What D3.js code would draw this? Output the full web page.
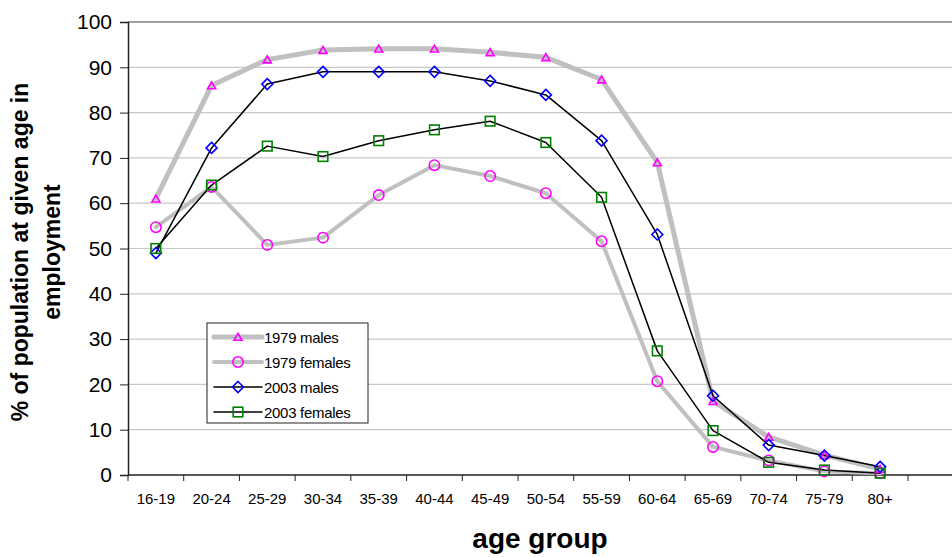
<!DOCTYPE html>
<html><head><meta charset="utf-8">
<script src="https://cdn.jsdelivr.net/npm/d3@7"></script>
<style>body{margin:0;background:#fff}svg{display:block;font-family:Arial,"Liberation Sans",sans-serif}</style>
</head><body><svg id="c" width="952" height="557"></svg>
<script>
const categories = ["16-19","20-24","25-29","30-34","35-39","40-44","45-49","50-54","55-59","60-64","65-69","70-74","75-79","80+"];
const males1979   = [61,86,91.7,93.8,94.1,94.1,93.3,92.2,87.3,69,16.3,8.4,4.4,1.3];
const females1979 = [54.7,63.6,50.8,52.4,61.8,68.4,66,62.2,51.6,20.7,6.2,3.2,0.8,0.4];
const males2003   = [49,72.2,86.3,89,89,89,87,83.9,73.8,53.1,17.5,6.6,4.3,1.8];
const females2003 = [50,64,72.6,70.3,73.8,76.2,78.1,73.4,61.3,27.4,9.8,2.8,1.1,0.4];
const yTicks = [0,10,20,30,40,50,60,70,80,90,100];
const seriesNames = ["1979 males","1979 females","2003 males","2003 females"];

const svg = d3.select("#c");
const L = 128, R = 908, T = 22, B = 475, W = 952;
const x = d3.scaleBand().domain(categories).range([L, R]);
const y = d3.scaleLinear().domain([0,100]).range([B, T]);
const FONT = "Arial,'Liberation Sans',sans-serif";

// gridlines
svg.append("g").selectAll("line").data(yTicks.filter(d=>d>0)).join("line")
  .attr("x1", L).attr("x2", W).attr("y1", d=>y(d)).attr("y2", d=>y(d))
  .attr("stroke", d=>d===100?"#808080":"#c8c8c8").attr("stroke-width", d=>d===100?1.5:1.2);

// y axis
const ya = svg.append("g").attr("transform", `translate(${L},0)`)
  .call(d3.axisLeft(y).tickValues(yTicks).tickSize(8).tickPadding(8));
ya.select(".domain").attr("stroke","#222").attr("stroke-width",1.5);
ya.selectAll(".tick line").attr("stroke","#222");
ya.selectAll("text").attr("font-size",21).attr("fill","#000").attr("font-family",FONT);

// x axis
const xa = svg.append("g").attr("transform", `translate(0,${B})`)
  .call(d3.axisBottom(x).tickSize(0).tickPadding(18));
xa.select(".domain").remove();
xa.selectAll("text").attr("font-size",15).attr("fill","#000").attr("font-family",FONT);
svg.append("line").attr("x1",L).attr("x2",W).attr("y1",B).attr("y2",B).attr("stroke","#222").attr("stroke-width",1.5);
const bounds = categories.map(c=>x(c)).concat([R]);
svg.append("g").selectAll("line").data(bounds).join("line")
  .attr("x1",d=>d).attr("x2",d=>d).attr("y1",B).attr("y2",B+6).attr("stroke","#222");

// titles
svg.append("text").attr("x", 540).attr("y", 548).attr("text-anchor","middle")
  .attr("font-size",28).attr("font-weight","bold").text("age group");
const yt = svg.append("text").attr("transform","translate(0,252) rotate(-90)")
  .attr("text-anchor","middle").attr("font-size",23).attr("font-weight","bold");
yt.append("tspan").attr("x",0).attr("y",28).text("% of population at given age in");
yt.append("tspan").attr("x",0).attr("y",60).text("employment");

const cx = c => x(c) + x.bandwidth()/2;
const line = d3.line().x((d,i)=>cx(categories[i])).y(d=>y(d));

const series = [
  {name: seriesNames[0], data: males1979, stroke:"#c0c0c0", sw:5, marker:"tri", mc:"#ff00ff"},
  {name: seriesNames[1], data: females1979, stroke:"#c0c0c0", sw:4, marker:"circ", mc:"#ff00ff"},
  {name: seriesNames[2], data: males2003, stroke:"#000", sw:1.5, marker:"dia", mc:"#0000ff"},
  {name: seriesNames[3], data: females2003, stroke:"#000", sw:1.5, marker:"sq", mc:"#008000"}
];

function marker(g, type, color, px, py){
  if(type==="tri"){
    g.append("path").attr("d", d3.symbol(d3.symbolTriangle, 28)()).attr("transform",`translate(${px},${py+1})`)
      .attr("fill","none").attr("stroke",color).attr("stroke-width",1.6);
  } else if(type==="circ"){
    g.append("circle").attr("cx",px).attr("cy",py).attr("r",5.2).attr("fill","none").attr("stroke",color).attr("stroke-width",1.6);
  } else if(type==="dia"){
    g.append("path").attr("d",`M${px},${py-5.5}L${px+5.5},${py}L${px},${py+5.5}L${px-5.5},${py}Z`)
      .attr("fill","none").attr("stroke",color).attr("stroke-width",1.6);
  } else {
    g.append("rect").attr("x",px-4.8).attr("y",py-4.8).attr("width",9.6).attr("height",9.6)
      .attr("fill","none").attr("stroke",color).attr("stroke-width",1.6);
  }
}

series.forEach(s=>{
  svg.append("path").datum(s.data).attr("d",line).attr("fill","none")
    .attr("stroke",s.stroke).attr("stroke-width",s.sw).attr("stroke-linejoin","round").attr("stroke-linecap","round");
});
series.forEach(s=>{
  const g = svg.append("g");
  s.data.forEach((v,i)=>marker(g, s.marker, s.mc, cx(categories[i]), y(v)));
});

// legend
const lg = svg.append("g").attr("transform","translate(207,323)");
lg.append("rect").attr("width",161).attr("height",100).attr("fill","#fff").attr("stroke","#222").attr("stroke-width",1);
series.forEach((s,i)=>{
  const ly = 14 + i*25;
  lg.append("line").attr("x1",7).attr("x2",55).attr("y1",ly).attr("y2",ly)
    .attr("stroke",s.stroke).attr("stroke-width",s.sw).attr("stroke-linecap","round");
  marker(lg, s.marker, s.mc, 31, ly);
  lg.append("text").attr("x",57).attr("y",ly+5.5).attr("font-size",15).attr("letter-spacing",-0.3).text(s.name);
});
</script></body></html>
